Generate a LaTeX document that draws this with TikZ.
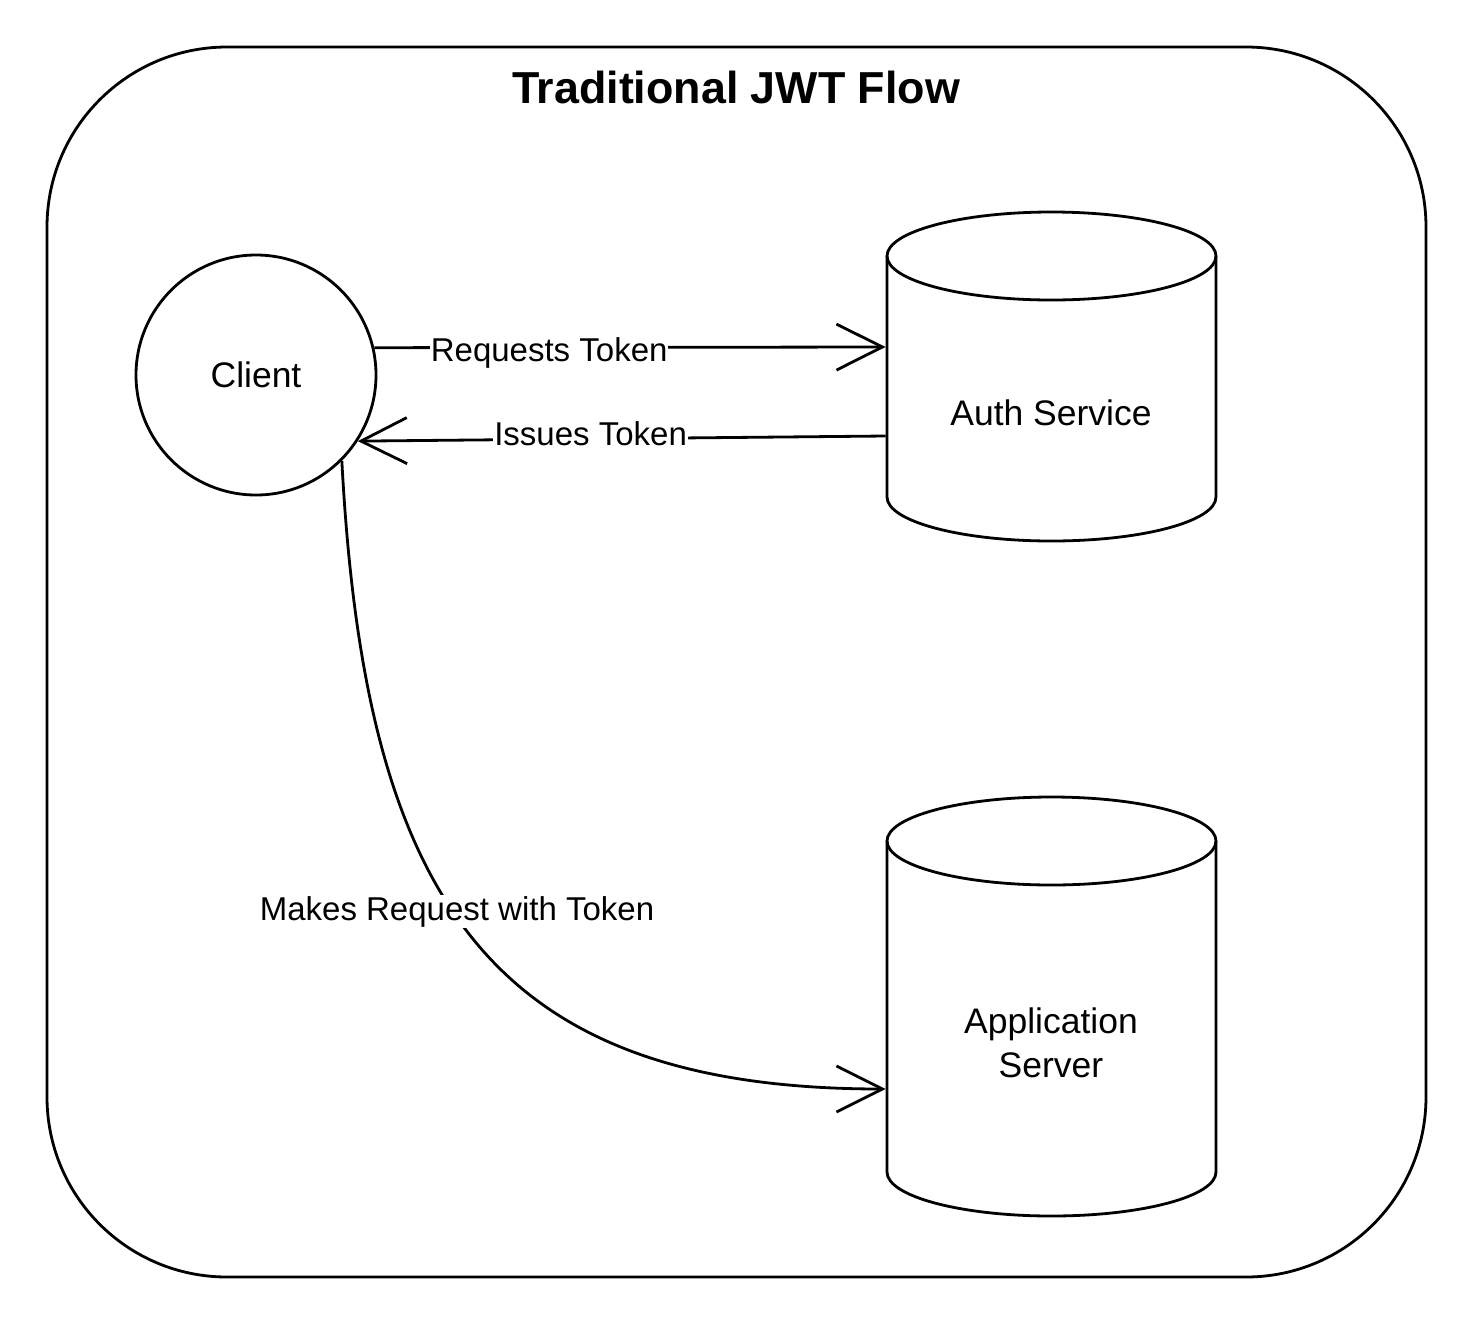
\documentclass[tikz,border=0pt]{standalone}
\usepackage{fontspec}
\setmainfont{Liberation Sans}
\usetikzlibrary{arrows.meta}
\begin{document}
\begin{tikzpicture}[x=1pt,y=-1pt,line width=2.8pt,
  arr/.style={-{Straight Barb[length=46pt,width=46pt,line width=2.8pt]}},
  nodefont/.style={font=\fontsize{35.5}{44}\selectfont},
  lbl/.style={font=\fontsize{33}{38}\selectfont,fill=white,inner sep=1pt,text height=23.5pt,text depth=0pt},
  box/.style={draw=none,inner sep=0pt,minimum width=329pt}]
\useasboundingbox (0,0) rectangle (1476,1326);
% container
\node[draw,rounded corners=180pt,minimum width=1379pt,minimum height=1230pt,inner sep=0pt] (frame) at (736.5,662) {};
\node[font=\bfseries\fontsize{44.8}{52}\selectfont,anchor=base] (title) at (736,103) {Traditional JWT Flow};
% client
\node[draw,circle,minimum size=240pt,inner sep=0pt,nodefont] (client) at (256,375) {Client};
% auth service cylinder
\node[box,minimum height=329pt] (auth) at (1051.5,376.5) {};
\draw (1051.5,256) ellipse [x radius=164.5pt,y radius=44pt];
\draw (887,256) -- (887,497) arc[start angle=180,end angle=360,x radius=164.5pt,y radius=44pt] -- (1216,256);
\node[nodefont,anchor=base] (authlbl) at (1051,425) {Auth Service};
% application server cylinder
\node[box,minimum height=419pt] (app) at (1051.5,1006.5) {};
\draw (1051.5,841) ellipse [x radius=164.5pt,y radius=44pt];
\draw (887,841) -- (887,1172) arc[start angle=180,end angle=360,x radius=164.5pt,y radius=44pt] -- (1216,841);
\node[nodefont,align=center,text depth=0pt] (applbl) at (1051,1043) {Application\\Server};
% connector ends
\coordinate (reqEnd) at (auth.west |- 0,347);
\coordinate (issStart) at (auth.west |- 0,436);
\coordinate (mkEnd) at (app.west |- 0,1089);
% connectors
\draw[arr] (client.13) -- node[lbl,pos=0.342,yshift=-2pt] (reqlbl) {Requests Token} (reqEnd);
\draw[arr] (issStart) -- node[lbl,pos=0.559,yshift=5pt] (isslbl) {Issues Token} (client.-33);
\draw[arr] (client.-45) .. controls (365,900) and (490,1089) .. (mkEnd);
\node[lbl,anchor=base,text height=,text depth=] (mklbl) at (457,920) {Makes Request with Token};
\end{tikzpicture}
\end{document}
